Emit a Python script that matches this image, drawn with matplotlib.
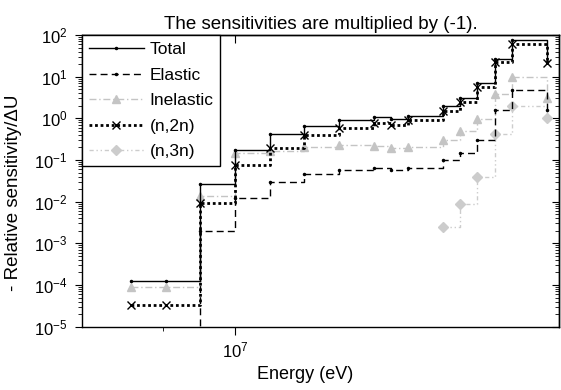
import numpy as np
import matplotlib
matplotlib.use('Agg')
import matplotlib.pyplot as plt

plt.rcParams['font.family'] = ['Liberation Sans', 'DejaVu Sans']
plt.rcParams['mathtext.fontset'] = 'custom'
plt.rcParams['mathtext.rm'] = 'Liberation Sans'
plt.rcParams['mathtext.it'] = 'Liberation Sans'

# lower group energies (eV), last point closes the top group
energy = np.array([7, 8, 9, 10, 11, 12, 13, 14, 14.5, 15, 16, 16.5, 17, 17.5, 18, 19]) * 1e6

total = [1.27e-4, 1.27e-4, 0.026, 0.17, 0.42, 0.66, 0.91, 1.08, 0.97, 1.15,
         1.98, 3.1, 6.9, 27, 75, 22]
elastic = [1e-6, 1e-6, 0.002, 0.012, 0.029, 0.045, 0.057, 0.063, 0.057, 0.063,
           0.10, 0.15, 0.30, 1.6, 4.7, 1.6]
inelastic = [8.8e-5, 8.8e-5, 0.014, 0.15, 0.16, 0.21, 0.23, 0.22, 0.19, 0.205,
             0.30, 0.50, 0.97, 3.9, 10, 3.0]
n2n = [3.4e-5, 3.4e-5, 0.0093, 0.075, 0.19, 0.40, 0.59, 0.76, 0.70, 0.91,
       1.52, 2.5, 5.5, 22, 61, 21]
n3n = [np.nan] * 10 + [0.0025, 0.0086, 0.039, 0.43, 2.0, 1.03]

fig = plt.figure(figsize=(5.61, 3.90), dpi=100)
ax = fig.add_axes([0.1456, 0.1623, 0.851, 0.748])

ax.plot(energy, total, drawstyle='steps-post', color='black', lw=1.0,
        marker='.', ms=3, label='Total', zorder=6)
ax.plot(energy, elastic, drawstyle='steps-post', color='black', lw=1.0,
        ls=(0, (5, 3)), marker='.', ms=3, label='Elastic', zorder=5)
ax.plot(energy, inelastic, drawstyle='steps-post', color='#c4c4c4', lw=1.0,
        ls=(0, (5, 2, 1, 2)), marker='^', ms=6, label='Inelastic', zorder=3)
ax.plot(energy, n2n, drawstyle='steps-post', color='black', lw=2.0,
        ls=(0, (1, 1)), marker='x', ms=6, mew=1.0, label='(n,2n)', zorder=7)
ax.plot(energy, n3n, drawstyle='steps-post', color='#cccccc', lw=1.0,
        ls=(0, (3, 2, 1, 2, 1, 2)), marker='D', ms=5, label='(n,3n)', zorder=2)

ax.set_yscale('log')
ax.set_ylim(1e-5, 1e2)
ax.set_xlim(5.57e6, 19.36e6)

ax.set_xticks([1e7])
ax.set_xticklabels([r'$10^7$'])
ax.set_xticks([7.92e6], minor=True)
ax.tick_params(axis='x', which='major', direction='out', length=6, labelsize=12, pad=4)
ax.tick_params(axis='x', which='minor', direction='out', length=3)
ax.tick_params(axis='y', which='major', direction='out', length=5, labelsize=12, pad=5)
ax.tick_params(axis='y', which='minor', direction='out', length=3)

# mirrored ticks pointing inward on top and right
top = ax.secondary_xaxis('top')
top.set_xticks([1e7])
top.tick_params(direction='in', length=6, labeltop=False)
right = ax.secondary_yaxis('right')
right.tick_params(which='major', direction='in', length=5, labelright=False)
right.tick_params(which='minor', direction='in', length=3)

for s in list(ax.spines.values()) + [top.spines['top'], right.spines['right']]:
    s.set_linewidth(1.0)

ax.set_xlabel('Energy (eV)', fontsize=13)
ax.xaxis.set_label_coords(0.467, -0.135)
ax.set_ylabel('- Relative sensitivity/\u0394U', fontsize=13.5)
ax.yaxis.set_label_coords(-0.125, 0.46)
ax.set_title('The sensitivities are multiplied by (-1).', fontsize=13.5, pad=4)

leg = ax.legend(loc='upper left', fontsize=12.5, frameon=True, fancybox=False,
                framealpha=1, edgecolor='black', borderaxespad=0, numpoints=1,
                handlelength=3.2, labelspacing=0.6, handletextpad=0.3,
                borderpad=0.4)
leg.get_frame().set_linewidth(1.0)

fig.savefig('out.png', dpi=100)
